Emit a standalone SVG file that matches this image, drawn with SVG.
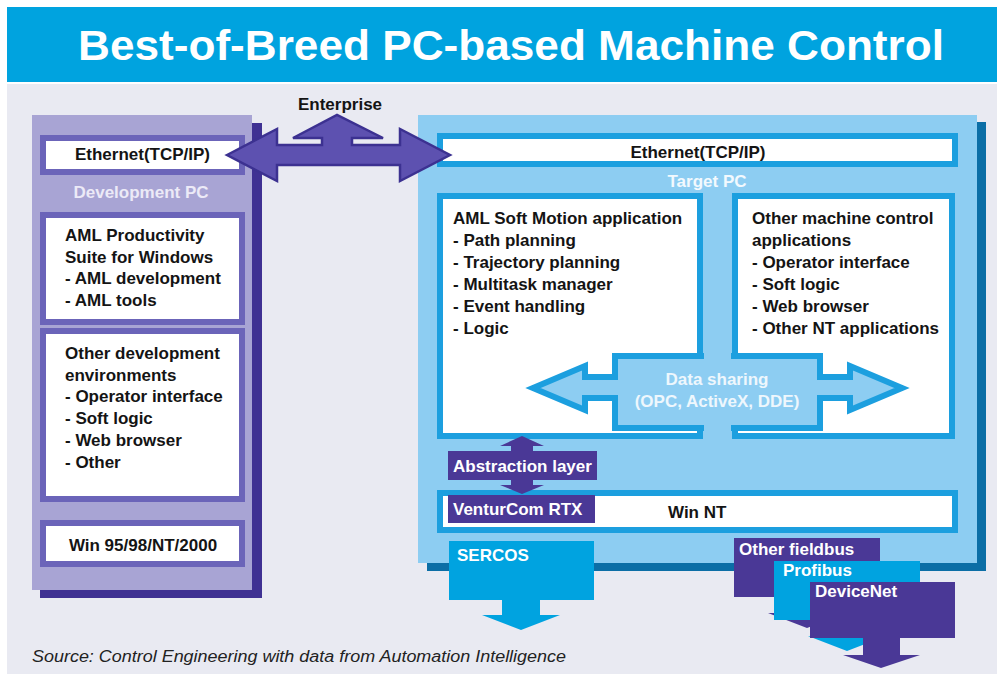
<svg xmlns="http://www.w3.org/2000/svg" width="997" height="675" viewBox="0 0 997 675">
<style>
text{font-family:"Liberation Sans",Arial,Helvetica,sans-serif;font-weight:bold;font-size:17px;fill:#141414}
.title{font-size:43px;fill:#fff}
.wl{fill:#fff}
.dev{fill:#ECEAF7}
.tgt{fill:#F2F9FE}
.ds{fill:#EEF7FD}
.src{font-weight:normal;font-style:italic;font-size:16px;fill:#222}
.mid{text-anchor:middle}
.devbox{fill:#fff;stroke:#6B64B9;stroke-width:6}
.tbox{fill:#fff;stroke:#1C9FDF;stroke-width:6}
.purple{fill:#4A3896}
.cyan{fill:#00A3E0}
</style>
<rect x="0" y="0" width="997" height="675" fill="#fff"/>
<rect x="7" y="84" width="990" height="590" fill="#E9EAF2"/>
<g id="title">
<rect x="7" y="7" width="990" height="75" fill="#00A3DF"/>
<text class="title mid" x="511" y="60" textLength="866" lengthAdjust="spacingAndGlyphs">Best-of-Breed PC-based Machine Control</text>
</g>
<g id="development-pc">
<rect x="40" y="123" width="222" height="475" fill="#3F3193"/>
<rect x="32" y="115" width="220" height="475" fill="#A8A4D4"/>
<rect class="devbox" x="43" y="138" width="199" height="34"/>
<text class="mid" x="142.5" y="160">Ethernet(TCP/IP)</text>
<text class="dev mid" x="141" y="198">Development PC</text>
<rect class="devbox" x="43" y="215" width="199" height="107"/>
<text x="65" y="241">AML Productivity</text>
<text x="65" y="263">Suite for Windows</text>
<text x="65" y="284">- AML development</text>
<text x="65" y="306">- AML tools</text>
<rect class="devbox" x="43" y="331" width="199" height="168"/>
<text x="65" y="359">Other development</text>
<text x="65" y="381">environments</text>
<text x="65" y="402">- Operator interface</text>
<text x="65" y="424">- Soft logic</text>
<text x="65" y="446">- Web browser</text>
<text x="65" y="468">- Other</text>
<rect class="devbox" x="43" y="523" width="199" height="41"/>
<text class="mid" x="143" y="551">Win 95/98/NT/2000</text>
</g>
<g id="target-pc">
<rect x="427" y="122" width="559" height="449" fill="#0B6EA6"/>
<rect x="418" y="115" width="559" height="448" fill="#8DCDF2"/>
<rect class="tbox" x="440" y="136" width="515" height="28"/>
<text class="mid" x="698" y="158">Ethernet(TCP/IP)</text>
<text class="tgt mid" x="707" y="187">Target PC</text>
<rect class="tbox" x="440" y="196" width="260" height="240"/>
<text x="453" y="224">AML Soft Motion application</text>
<text x="453" y="246">- Path planning</text>
<text x="453" y="268">- Trajectory planning</text>
<text x="453" y="290">- Multitask manager</text>
<text x="453" y="312">- Event handling</text>
<text x="453" y="334">- Logic</text>
<rect class="tbox" x="735" y="196" width="217" height="240"/>
<text x="752" y="224">Other machine control</text>
<text x="752" y="246">applications</text>
<text x="752" y="268">- Operator interface</text>
<text x="752" y="290">- Soft logic</text>
<text x="752" y="312">- Web browser</text>
<text x="752" y="334">- Other NT applications</text>
<rect class="tbox" x="440" y="493" width="515" height="37"/>
<text x="668" y="518">Win NT</text>
</g>
<g id="abstraction-layer">
<rect class="purple" x="448" y="451" width="149" height="29"/>
<text class="wl" x="453" y="472">Abstraction layer</text>
</g>
<g id="venturcom-rtx">
<rect class="purple" x="448" y="495" width="147" height="28"/>
<text class="wl" x="453" y="515">VenturCom RTX</text>
</g>
<g id="sercos">
<path class="cyan" d="M449,541H594V600H540V615H560L521,630L482,615H502V600H449Z"/>
<text class="wl" x="457" y="561">SERCOS</text>
</g>
<g id="other-fieldbus">
<path class="purple" d="M734,538H880V597H826V613H846L807,628L768,613H789V597H734Z"/>
<text class="wl" x="739" y="555">Other fieldbus</text>
</g>
<g id="profibus">
<path class="cyan" d="M774,561H920V620H866V636H886L847,651L808,636H829V620H774Z"/>
<text class="wl" x="783" y="576">Profibus</text>
</g>
<g id="devicenet">
<path class="purple" d="M810,582H955V638H900V655H920L881,668L843,655H863V638H810Z"/>
<text class="wl" x="815" y="597">DeviceNet</text>
</g>
<g id="connectors">
<path d="M227,155L277,129V145H322V138H293L337,115L383,138H352V145H400V129L450,155L400,181V165H277V181Z" fill="#5D51B0" stroke="#3C3191" stroke-width="2.5" stroke-linejoin="miter"/>
<path d="M533,388L585,366V377H615V356H820V377H850V366L902,388L850,410V398H820V428H615V398H585V410Z" fill="#8DCDF2" stroke="#1C9FDF" stroke-width="6"/>
<rect x="704" y="190" width="27" height="252" fill="#8DCDF2"/>
<path class="purple" d="M522,436L544,446H533V451H511V446H500Z"/>
<path class="purple" d="M511,480H533V485H544L522,494L500,485H511Z"/>
</g>
<text class="mid" x="340" y="110">Enterprise</text>
<text class="ds mid" x="717" y="385">Data sharing</text>
<text class="ds mid" x="717" y="407">(OPC, ActiveX, DDE)</text>
<text class="src" x="32" y="662" textLength="534" lengthAdjust="spacingAndGlyphs">Source: Control Engineering with data from Automation Intelligence</text>
</svg>
